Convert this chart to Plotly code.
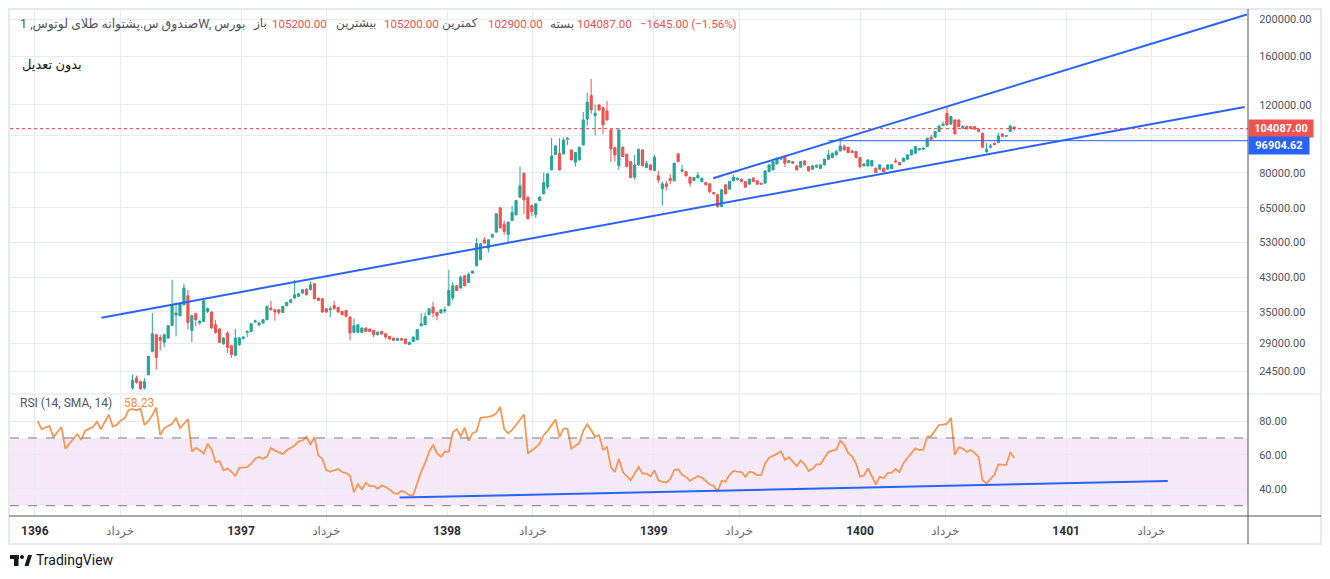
import pandas as pd
import plotly.graph_objects as go
from plotly.subplots import make_subplots

# weekly candles of the Lotus gold fund
opens = [22230, 23590, 23080, 22230, 24060, 27640, 30520, 30030, 29160, 29930,
         32260, 34320, 34170, 36480, 38490, 31310, 34580, 32720, 33040, 35060,
         34930, 32390, 31570, 28930, 30830, 28590, 26990, 28760, 29860, 30940,
         31130, 32920, 32390, 32720, 33370, 35770, 35410, 35410, 34850, 36270,
         36990, 37960, 38330, 39110, 40050, 39890, 41340, 37960, 37810, 35630,
         35410, 36340, 35900, 35060, 35270, 33900, 30940, 30940, 30940, 31760,
         31570, 31310, 30520, 31130, 30700, 30220, 29930, 29510, 29810, 29750,
         28810, 29330, 29630, 32200, 32390, 34380, 35980, 34850, 34730, 35140,
         36340, 37960, 40850, 40290, 43350, 41660, 44050, 46010, 47680, 53700,
         51110, 54570, 56220, 64960, 58960, 55420, 60240, 62310, 69230, 79860,
         69230, 65870, 62420, 67850, 70610, 73750, 81440, 89200, 89950, 89570,
         97760, 91730, 85260, 86430, 94500, 110310, 126730, 112500, 119890, 117960,
         115680, 103320, 92980, 83560, 93210, 89410, 85570, 77970, 83900, 91730,
         82550, 83900, 81110, 78590, 72740, 74940, 77330, 76290, 89570, 80820,
         80630, 77970, 76420, 77650, 75970, 75520, 74940, 71160, 70190, 65480,
         74490, 72610, 76290, 76740, 77060, 75970, 74800, 77520, 76290, 75250,
         75250, 80630, 81440, 84400, 86800, 88510, 85060, 85570, 83400, 82750,
         85920, 83060, 81780, 82750, 82070, 83900, 86800, 87610, 89040, 91190,
         93560, 93210, 91190, 90810, 87610, 83400, 83400, 83400, 82260, 81780,
         82260, 81780, 82000, 85920, 85060, 85570, 86800, 89040, 89950, 91730,
         92120, 93560, 98920, 98920, 102290, 106010, 114110, 106880, 109660, 109660,
         104370, 105380, 105380, 105380, 103750, 101310, 90650, 93210, 95460, 95810,
         100890, 99520, 102290, 105200]
highs = [24060, 23920, 23220, 23590, 26940, 34730, 30700, 30520, 30700, 32390,
         42330, 36990, 36990, 41340, 39890, 34380, 34850, 33370, 37590, 35900,
         35060, 33370, 31760, 30100, 31130, 28760, 31630, 30100, 30220, 31310,
         32720, 33370, 32840, 33470, 36270, 37360, 35520, 35630, 36270, 37140,
         37700, 42330, 39060, 40010, 40170, 41910, 41460, 38030, 37920, 35730,
         36120, 37360, 36050, 35200, 35370, 34010, 33570, 32490, 31860, 31860,
         31630, 31410, 31070, 31220, 30790, 30300, 29980, 29940, 29860, 29810,
         29240, 30190, 31540, 34730, 34850, 35770, 37080, 34990, 35520, 35980,
         44930, 41830, 40970, 43430, 43480, 44210, 44710, 54250, 52590, 54570,
         53870, 55590, 62870, 65160, 60240, 59850, 65740, 68050, 83060, 80100,
         69430, 66060, 66730, 69770, 80150, 79760, 98520, 94220, 98340, 98680,
         98920, 92010, 90540, 93490, 115000, 129000, 139950, 119890, 120250, 118280,
         122780, 103630, 93260, 103630, 93490, 89680, 85820, 89040, 92390, 92010,
         85920, 84150, 89040, 80960, 75970, 76290, 79530, 85010, 89840, 83900,
         80870, 78210, 78020, 80480, 77750, 75750, 75160, 71370, 70400, 72520,
         74710, 76200, 79060, 77750, 77290, 76200, 77290, 77970, 76510, 75470,
         81200, 84150, 85820, 87570, 87870, 88780, 86330, 85820, 83650, 85820,
         86180, 83310, 83650, 84010, 84150, 87050, 91730, 90220, 91730, 96950,
         94890, 93490, 91460, 91080, 87870, 84650, 86690, 86330, 82510, 84150,
         82510, 84150, 84300, 87310, 85310, 87570, 89310, 92010, 93840, 92720,
         92940, 98630, 100290, 102590, 106120, 108550, 118700, 112170, 109980, 109980,
         106440, 105700, 105700, 105700, 104060, 101620, 95460, 95060, 95740, 101680,
         101190, 100180, 106630, 105200]
lows = [22010, 22810, 22010, 22010, 23960, 27470, 24790, 27800, 28370, 29800,
        32070, 30220, 34030, 36270, 31440, 29160, 32070, 32390, 32920, 34730,
        31630, 30700, 29050, 28760, 27380, 26570, 26830, 28590, 29630, 30100,
        31020, 32720, 32070, 32590, 33270, 35270, 33170, 34380, 34790, 36160,
        36920, 37850, 38260, 39000, 38600, 39770, 37700, 37360, 34830, 34790,
        33900, 35520, 34830, 34280, 33920, 29510, 30850, 30890, 30890, 31030,
        31070, 30100, 30430, 30560, 29800, 29660, 29420, 29420, 29490, 28840,
        28730, 29240, 29540, 32070, 32300, 34280, 33900, 33230, 34630, 34730,
        36270, 37430, 39600, 40170, 40730, 41530, 43920, 45870, 47540, 52500,
        49800, 54410, 56060, 57500, 55320, 52660, 60060, 62130, 69020, 62570,
        60670, 61940, 61100, 67650, 70400, 72610, 81200, 88940, 81110, 89310,
        94500, 86180, 83060, 86180, 94220, 105810, 113430, 99890, 116030, 100710,
        109200, 85260, 85570, 81440, 87890, 82820, 77550, 76740, 83650, 83150,
        82310, 81200, 80860, 75250, 65870, 72010, 74800, 76060, 85310, 80150,
        78350, 73750, 76200, 77420, 75750, 74270, 70900, 70400, 65070, 65230,
        70400, 72390, 76060, 76510, 75750, 73250, 74580, 75750, 74580, 74580,
        75030, 80390, 81200, 84150, 86540, 82750, 84810, 84500, 81200, 82500,
        83650, 80720, 81540, 82500, 81840, 83650, 86540, 87350, 88780, 90920,
        91460, 90000, 90000, 87350, 82260, 83150, 83150, 83150, 79910, 81540,
        80150, 81540, 81700, 85160, 83650, 85310, 86540, 88780, 89680, 91460,
        91840, 93280, 96950, 98630, 101980, 105700, 106120, 106560, 100590, 105060,
        103750, 103630, 104060, 103450, 101980, 92930, 90270, 92440, 94380, 95520,
        99000, 99220, 101980, 102900]
closes = [23260, 22980, 22100, 23080, 26830, 30700, 26660, 29510, 30520, 32200,
          36480, 34730, 36640, 40290, 32840, 34170, 33370, 33040, 37360, 35630,
          31760, 30940, 29160, 29930, 28300, 27100, 29930, 29930, 30100, 31130,
          32590, 33170, 32720, 33370, 36120, 35410, 34930, 34850, 36120, 36990,
          37590, 38720, 38950, 39890, 38720, 41090, 37810, 37430, 34930, 34930,
          35630, 35630, 34930, 34380, 34030, 30830, 32200, 32390, 31760, 31130,
          31130, 30520, 31020, 30650, 30100, 29750, 29510, 29860, 29580, 28930,
          29160, 30100, 31440, 32590, 34030, 35560, 34730, 34170, 35410, 35410,
          39720, 40850, 39720, 43010, 40850, 43690, 44580, 52530, 52440, 52660,
          53700, 55420, 62690, 57670, 56420, 59670, 63180, 67850, 74050, 68130,
          60850, 63550, 66530, 69230, 75520, 79530, 88510, 93940, 81440, 97350,
          98110, 86430, 90270, 93210, 109660, 121840, 116380, 114110, 116380, 106440,
          109660, 92280, 89040, 103320, 88160, 83060, 77780, 83900, 92120, 83400,
          84750, 81440, 87820, 76740, 74940, 73750, 76420, 84750, 85570, 81440,
          78590, 75250, 77780, 78920, 77520, 74490, 71580, 70610, 65480, 72310,
          70610, 75970, 77970, 77520, 75970, 73470, 77060, 75970, 74800, 74800,
          80960, 83900, 85570, 87310, 87610, 84750, 86080, 84750, 81440, 85570,
          83900, 80960, 83400, 83760, 83900, 86800, 89040, 89950, 90810, 93940,
          91730, 90270, 90270, 87610, 83060, 84400, 86430, 86080, 80150, 83900,
          80630, 83900, 84000, 85410, 83900, 87310, 89040, 91730, 93560, 92440,
          92660, 98340, 97760, 102290, 105810, 106880, 106440, 111840, 100890, 105380,
          105380, 103940, 104370, 103750, 102290, 93210, 92120, 93940, 94670, 99700,
          99290, 99890, 105730, 104087]

# weekly RSI (14, SMA 14)
rsi = [80.0, 75.1, 76.3, 77.1, 70.5, 73.8, 76.5, 63.7, 66.4, 69.3,
       72.2, 68.9, 74.2, 75.5, 76.5, 79.6, 75.1, 79.6, 83.7, 76.7,
       77.7, 80.4, 81.6, 86.6, 87.0, 86.4, 87.4, 77.7, 80.0, 83.5,
       88.0, 71.7, 75.7, 77.1, 78.4, 81.9, 75.7, 78.4, 81.2, 62.1,
       64.1, 62.7, 60.8, 66.6, 63.1, 55.7, 56.3, 50.9, 52.0, 50.1,
       47.6, 52.4, 52.4, 52.8, 54.8, 57.7, 58.8, 57.7, 59.0, 64.1,
       62.5, 61.7, 60.6, 62.7, 64.1, 65.6, 68.0, 68.5, 70.7, 66.0,
       70.5, 59.6, 57.7, 50.9, 50.1, 50.9, 51.7, 49.9, 49.3, 47.6,
       37.9, 42.7, 39.6, 43.5, 41.6, 41.7, 40.0, 41.9, 41.2, 39.6,
       37.5, 36.9, 38.8, 37.9, 36.1, 36.3, 43.3, 50.1, 55.3, 61.7,
       66.0, 61.0, 58.8, 62.1, 61.9, 73.4, 75.3, 70.9, 76.1, 68.3,
       72.8, 73.8, 81.9, 82.1, 82.5, 83.1, 84.5, 88.3, 75.3, 72.8,
       74.8, 77.7, 80.6, 83.9,
       60.8, 62.5, 64.5, 66.8, 71.8, 74.2, 77.7, 81.0, 70.5, 75.5,
       75.5, 63.7, 65.4, 67.0, 74.2, 78.1, 74.6, 70.7, 71.7, 63.1,
       64.7, 52.8, 49.9, 57.7, 49.9, 47.6, 45.0, 48.9, 52.8, 48.9,
       48.9, 47.4, 50.9, 45.0, 44.1, 43.7, 45.6, 51.1, 51.5, 48.2,
       47.0, 44.7, 46.4, 47.6, 46.6, 44.7, 42.5, 41.7, 38.3, 44.7,
       44.1, 48.2, 50.5, 50.1, 49.9, 47.0, 50.1, 49.5, 48.0, 48.0,
       55.0, 58.3, 59.4, 60.6, 62.1, 57.1, 58.6, 56.3, 53.4, 56.7,
       54.4, 50.5, 51.8, 54.4, 54.4, 58.3, 61.7, 62.5, 63.1, 68.5,
       66.0, 61.2, 59.2, 54.8, 47.2, 47.8, 52.0, 47.4, 42.5, 47.2,
       46.2, 49.3, 49.5, 51.7, 49.9, 55.3, 58.3, 61.4, 63.9, 62.9,
       63.1, 70.7, 71.1, 74.6, 77.7, 77.9, 78.3, 81.9, 60.0, 64.5,
       63.7, 61.7, 62.9, 61.2, 58.8, 45.0, 43.1, 45.8, 48.2, 54.4,
       54.2, 54.0, 61.6, 58.23]

last_week = "2022-10-01"
weeks = pd.date_range(end=last_week, periods=len(closes), freq="7D")
rsi_weeks = pd.date_range(end=last_week, periods=len(rsi), freq="7D")

x_range = ["2017-11-18", "2023-11-19"]
x_ticks = ["2018-01-01", "2018-06-01", "2019-01-01", "2019-06-01", "2020-01-01", "2020-06-01",
           "2021-01-01", "2021-06-01", "2022-01-01", "2022-06-01", "2023-01-01", "2023-06-01"]
x_labels = ["1396", "خرداد", "1397", "خرداد", "1398", "خرداد",
            "1399", "خرداد", "1400", "خرداد", "1401", "خرداد"]
price_ticks = [24500, 29000, 35000, 43000, 53000, 65000, 80000, 100000, 120000, 160000, 200000]
rsi_ticks = [40, 60, 80]

last_close = 104087.00
level = 96904.62
header_values = ["105200.00", "105200.00", "102900.00", "104087.00", "−1645.00 (−1.56%)"]

# hand drawn lines
long_line_x = ["2018-04-29", "2023-11-13"]
long_line_y = [33770, 118470]
upper_line_x = ["2021-04-16", "2023-11-17"]
upper_line_y = [77520, 205400]
level_x = ["2021-11-06", "2023-12-31"]
rsi_line_x = ["2019-10-09", "2023-06-30"]
rsi_line_y = [34.8, 44.6]

# the page adds an 8px body margin, so the figure is 8px smaller than the window
OFF = 8
W, H = 1322, 571
L, R, T, B = 2, 82, 2, 63
PW, PH = W - L - R, H - T - B


def px(x):
    # page pixel -> paper x
    return (x - OFF - L) / PW


def py(y):
    # page pixel -> paper y
    return (H - B - (y - OFF)) / PH


green, red, blue = "#26a69a", "#ef5350", "#2962ff"
grid = "#e8ebf1"
axis_col = "#50535e"
font_fam = "Roboto, DejaVu Sans, sans-serif"

fig = make_subplots(rows=2, cols=1, shared_xaxes=True, vertical_spacing=0.01)

fig.add_trace(go.Scatter(x=x_range, y=[last_close, last_close], mode="lines",
                         line=dict(color="#f23645", width=1, dash="dot"), hoverinfo="skip"), row=1, col=1)
fig.add_trace(go.Candlestick(x=weeks, open=opens, high=highs, low=lows, close=closes,
                             increasing=dict(line=dict(color=green, width=1), fillcolor=green),
                             decreasing=dict(line=dict(color=red, width=1), fillcolor=red),
                             whiskerwidth=0), row=1, col=1)
fig.add_trace(go.Scatter(x=long_line_x, y=long_line_y, mode="lines",
                         line=dict(color=blue, width=2)), row=1, col=1)
fig.add_trace(go.Scatter(x=upper_line_x, y=upper_line_y, mode="lines",
                         line=dict(color=blue, width=2)), row=1, col=1)
fig.add_trace(go.Scatter(x=level_x, y=[level, level], mode="lines",
                         line=dict(color=blue, width=1)), row=1, col=1)

fig.add_trace(go.Scatter(x=rsi_weeks, y=rsi, mode="lines",
                         line=dict(color="#f99653", width=1.8)), row=2, col=1)
fig.add_trace(go.Scatter(x=rsi_line_x, y=rsi_line_y, mode="lines",
                         line=dict(color=blue, width=2)), row=2, col=1)

fig.update_layout(width=W, height=H, margin=dict(l=L, r=R, t=T, b=B),
                  paper_bgcolor="white", plot_bgcolor="white", showlegend=False,
                  boxgap=0.22,
                  font=dict(family=font_fam, size=11, color="#131722"))

fig.update_xaxes(range=x_range, tickvals=x_ticks, showgrid=True, gridcolor=grid, gridwidth=1,
                 zeroline=False, showline=False, rangeslider_visible=False)
fig.update_xaxes(showticklabels=False, row=1, col=1)
fig.update_xaxes(ticktext=["<b>%s</b>" % t if t[0].isdigit() else
                           "<span style='color:#6a6d78'>%s</span>" % t for t in x_labels],
                 showticklabels=True, ticks="outside", ticklen=4, tickcolor="rgba(0,0,0,0)",
                 tickfont=dict(size=12, color="#2a2e39"), row=2, col=1)

fig.update_yaxes(type="log", range=[4.33387, 5.32430], domain=[py(393), 1], side="right",
                 tickvals=price_ticks,
                 ticktext=["" if v == 100000 else "%.2f" % v for v in price_ticks],
                 showgrid=True, gridcolor=grid, zeroline=False, showline=False,
                 ticks="outside", ticklen=8, tickcolor="rgba(0,0,0,0)",
                 tickfont=dict(size=11, color="#50535e"), row=1, col=1)
fig.update_yaxes(range=[23.9, 95.4], domain=[0, py(395)], side="right",
                 tickvals=rsi_ticks, ticktext=["%.2f" % v for v in rsi_ticks],
                 showgrid=True, gridcolor=grid, zeroline=False, showline=False,
                 ticks="outside", ticklen=8, tickcolor="rgba(0,0,0,0)",
                 tickfont=dict(size=11, color="#50535e"), row=2, col=1)

# RSI band and bounds
fig.add_shape(type="rect", xref="paper", yref="y2", x0=0, x1=1, y0=30, y1=70,
              fillcolor="rgba(156,39,176,0.1)", line=dict(width=0), layer="below")
for lvl in (70, 30):
    fig.add_shape(type="line", xref="paper", yref="y2", x0=0, x1=1, y0=lvl, y1=lvl,
                  line=dict(color="#787b86", width=1, dash="dash"))

# frame, pane separator and axis lines
fig.add_shape(type="rect", xref="paper", yref="paper", x0=px(9), x1=px(1321), y0=py(544), y1=py(9),
              line=dict(color="#e6e9ef", width=2))
fig.add_shape(type="line", xref="paper", yref="paper", x0=px(9), x1=px(1321), y0=py(394), y1=py(394),
              line=dict(color="#e0e3eb", width=1))
fig.add_shape(type="line", xref="paper", yref="paper", x0=1, x1=1, y0=py(544), y1=py(9),
              line=dict(color=axis_col, width=1))
fig.add_shape(type="line", xref="paper", yref="paper", x0=px(9), x1=px(1321), y0=0, y1=0,
              line=dict(color=axis_col, width=1))

# header legend
hy = py(24)
fig.add_annotation(x=px(18), y=hy, text="صندوق س.پشتوانه طلای لوتوس, 1W, بورس",
                   font=dict(size=12.5, color="#50535e"))
labels = ["باز", "بیشترین", "کمترین", "بسته"]
label_x = [251, 334, 440, 548]
value_x = [270, 382, 486, 575, 638]
for t, xx in zip(labels, label_x):
    fig.add_annotation(x=px(xx), y=hy, text=t, font=dict(size=12, color="#50535e"))
for t, xx in zip(header_values, value_x):
    fig.add_annotation(x=px(xx), y=hy, text=t, font=dict(size=11.5, color=red))
fig.add_annotation(x=px(20), y=py(65), text="بدون تعدیل", font=dict(size=13, color="#131722"))
fig.add_annotation(x=px(18), y=py(403), text="RSI (14, SMA, 14)", font=dict(size=12, color="#50535e"))
fig.add_annotation(x=px(122), y=py(403), text="%.2f" % rsi[-1], font=dict(size=12, color="#ff8a3d"))
fig.update_annotations(xref="paper", yref="paper", xanchor="left", yanchor="middle", showarrow=False)

# price labels on the scale
fig.add_annotation(x=1, y=py(129), xref="paper", yref="paper", xanchor="left", yanchor="middle",
                   text="<b>%.2f</b>" % last_close, font=dict(size=11, color="white"),
                   bgcolor="#f05350", borderpad=2, width=60, showarrow=False)
fig.add_annotation(x=1, y=py(145.5), xref="paper", yref="paper", xanchor="left", yanchor="middle",
                   text="<b>%.2f</b>" % level, font=dict(size=11, color="white"),
                   bgcolor=blue, borderpad=2, width=56, showarrow=False)

# watermark
logo = "#131722"
fig.add_shape(type="rect", xref="paper", yref="paper", x0=px(10), x1=px(19), y0=py(559), y1=py(555),
              fillcolor=logo, line=dict(width=0))
fig.add_shape(type="rect", xref="paper", yref="paper", x0=px(14), x1=px(18.5), y0=py(566), y1=py(555),
              fillcolor=logo, line=dict(width=0))
fig.add_shape(type="circle", xref="paper", yref="paper", x0=px(20), x1=px(24), y0=py(559), y1=py(555),
              fillcolor=logo, line=dict(width=0))
fig.add_shape(type="path", xref="paper", yref="paper",
              path="M %f %f L %f %f L %f %f L %f %f Z" % (px(24.5), py(566), px(28), py(555),
                                                          px(32), py(555), px(28.5), py(566)),
              fillcolor=logo, line=dict(width=0))
fig.add_annotation(x=px(34), y=py(560), xref="paper", yref="paper", xanchor="left", yanchor="middle",
                   text="TradingView", font=dict(size=14, color="#131722"), showarrow=False)

fig.write_html("out.html")
